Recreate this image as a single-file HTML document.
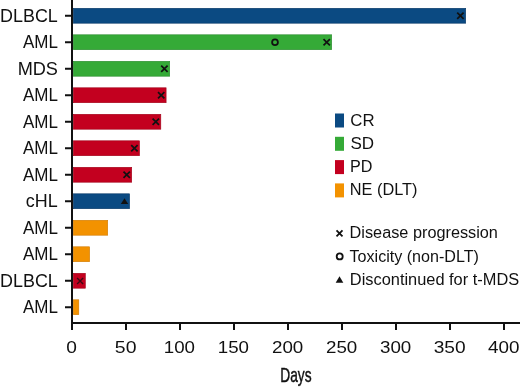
<!DOCTYPE html>
<html><head><meta charset="utf-8"><style>
html,body{margin:0;padding:0;background:#fff;width:520px;height:388px;overflow:hidden}
svg{display:block;will-change:transform}
text{font-family:"Liberation Sans",sans-serif;fill:#111}
</style></head><body>
<svg width="520" height="388" viewBox="0 0 520 388">
<rect x="73.3" y="8.3" width="392.4" height="14.9" fill="#0b4a82" stroke="#083866" stroke-width="0.6"/>
<rect x="65" y="14.75" width="6" height="2" fill="#111"/>
<text x="0.07" y="21.55" font-size="17.6" textLength="57.70" lengthAdjust="spacingAndGlyphs">DLBCL</text>
<rect x="73.3" y="34.8" width="258.4" height="14.9" fill="#35aa37" stroke="#2a8a2e" stroke-width="0.6"/>
<rect x="65" y="41.25" width="6" height="2" fill="#111"/>
<text x="23.00" y="48.05" font-size="17.6" textLength="34.96" lengthAdjust="spacingAndGlyphs">AML</text>
<rect x="73.3" y="61.3" width="96.4" height="14.9" fill="#35aa37" stroke="#2a8a2e" stroke-width="0.6"/>
<rect x="65" y="67.75" width="6" height="2" fill="#111"/>
<text x="17.65" y="74.55" font-size="17.6" textLength="40.33" lengthAdjust="spacingAndGlyphs">MDS</text>
<rect x="73.3" y="87.8" width="92.8" height="14.9" fill="#c3001f" stroke="#a00018" stroke-width="0.6"/>
<rect x="65" y="94.25" width="6" height="2" fill="#111"/>
<text x="23.00" y="101.05" font-size="17.6" textLength="34.96" lengthAdjust="spacingAndGlyphs">AML</text>
<rect x="73.3" y="114.3" width="87.5" height="14.9" fill="#c3001f" stroke="#a00018" stroke-width="0.6"/>
<rect x="65" y="120.75" width="6" height="2" fill="#111"/>
<text x="23.00" y="127.55" font-size="17.6" textLength="34.96" lengthAdjust="spacingAndGlyphs">AML</text>
<rect x="73.3" y="140.8" width="66.2" height="14.9" fill="#c3001f" stroke="#a00018" stroke-width="0.6"/>
<rect x="65" y="147.25" width="6" height="2" fill="#111"/>
<text x="23.00" y="154.05" font-size="17.6" textLength="34.96" lengthAdjust="spacingAndGlyphs">AML</text>
<rect x="73.3" y="167.3" width="58.4" height="14.9" fill="#c3001f" stroke="#a00018" stroke-width="0.6"/>
<rect x="65" y="173.75" width="6" height="2" fill="#111"/>
<text x="23.00" y="180.55" font-size="17.6" textLength="34.96" lengthAdjust="spacingAndGlyphs">AML</text>
<rect x="73.3" y="193.8" width="56.3" height="14.9" fill="#0b4a82" stroke="#083866" stroke-width="0.6"/>
<rect x="65" y="200.25" width="6" height="2" fill="#111"/>
<text x="25.73" y="207.05" font-size="17.6" textLength="31.92" lengthAdjust="spacingAndGlyphs">cHL</text>
<rect x="73.3" y="220.3" width="34.4" height="14.9" fill="#f39200" stroke="#d07a00" stroke-width="0.6"/>
<rect x="65" y="226.75" width="6" height="2" fill="#111"/>
<text x="23.00" y="233.55" font-size="17.6" textLength="34.96" lengthAdjust="spacingAndGlyphs">AML</text>
<rect x="73.3" y="246.8" width="16.3" height="14.9" fill="#f39200" stroke="#d07a00" stroke-width="0.6"/>
<rect x="65" y="253.25" width="6" height="2" fill="#111"/>
<text x="23.00" y="260.05" font-size="17.6" textLength="34.96" lengthAdjust="spacingAndGlyphs">AML</text>
<rect x="73.3" y="273.3" width="12.0" height="14.9" fill="#c3001f" stroke="#a00018" stroke-width="0.6"/>
<rect x="65" y="279.75" width="6" height="2" fill="#111"/>
<text x="0.07" y="286.55" font-size="17.6" textLength="57.70" lengthAdjust="spacingAndGlyphs">DLBCL</text>
<rect x="73.3" y="299.8" width="5.5" height="14.9" fill="#f39200" stroke="#d07a00" stroke-width="0.6"/>
<rect x="65" y="306.25" width="6" height="2" fill="#111"/>
<text x="23.00" y="313.05" font-size="17.6" textLength="34.96" lengthAdjust="spacingAndGlyphs">AML</text>
<path d="M457.20 12.55L463.60 18.95M463.60 12.55L457.20 18.95" stroke="#111" stroke-width="1.7" fill="none"/>
<path d="M323.50 39.05L329.90 45.45M329.90 39.05L323.50 45.45" stroke="#111" stroke-width="1.7" fill="none"/>
<path d="M161.20 65.55L167.60 71.95M167.60 65.55L161.20 71.95" stroke="#111" stroke-width="1.7" fill="none"/>
<path d="M158.00 92.05L164.40 98.45M164.40 92.05L158.00 98.45" stroke="#111" stroke-width="1.7" fill="none"/>
<path d="M152.60 118.55L159.00 124.95M159.00 118.55L152.60 124.95" stroke="#111" stroke-width="1.7" fill="none"/>
<path d="M131.20 145.05L137.60 151.45M137.60 145.05L131.20 151.45" stroke="#111" stroke-width="1.7" fill="none"/>
<path d="M123.50 171.55L129.90 177.95M129.90 171.55L123.50 177.95" stroke="#111" stroke-width="1.7" fill="none"/>
<path d="M77.10 278.05L83.10 284.05M83.10 278.05L77.10 284.05" stroke="#3a0a14" stroke-width="1.4" fill="none"/>
<circle cx="275" cy="42.25" r="2.9" stroke="#111" stroke-width="1.8" fill="none"/>
<path d="M120.8 204.05L128.2 204.05L124.5 198.25Z" fill="#111"/>
<rect x="71" y="0" width="2" height="330" fill="#111"/>
<rect x="71" y="322" width="449" height="2" fill="#111"/>
<rect x="71" y="324" width="2" height="6" fill="#111"/>
<text x="66.36" y="352.60" font-size="17" textLength="10.65" lengthAdjust="spacingAndGlyphs">0</text>
<rect x="125" y="324" width="2" height="6" fill="#111"/>
<text x="114.84" y="352.60" font-size="17" textLength="21.62" lengthAdjust="spacingAndGlyphs">50</text>
<rect x="179" y="324" width="2" height="6" fill="#111"/>
<text x="163.72" y="352.60" font-size="17" textLength="31.27" lengthAdjust="spacingAndGlyphs">100</text>
<rect x="233" y="324" width="2" height="6" fill="#111"/>
<text x="217.72" y="352.60" font-size="17" textLength="31.27" lengthAdjust="spacingAndGlyphs">150</text>
<rect x="287" y="324" width="2" height="6" fill="#111"/>
<text x="271.97" y="352.60" font-size="17" textLength="31.32" lengthAdjust="spacingAndGlyphs">200</text>
<rect x="341" y="324" width="2" height="6" fill="#111"/>
<text x="325.97" y="352.60" font-size="17" textLength="31.32" lengthAdjust="spacingAndGlyphs">250</text>
<rect x="395" y="324" width="2" height="6" fill="#111"/>
<text x="379.97" y="352.60" font-size="17" textLength="31.32" lengthAdjust="spacingAndGlyphs">300</text>
<rect x="449" y="324" width="2" height="6" fill="#111"/>
<text x="433.66" y="352.60" font-size="17" textLength="31.95" lengthAdjust="spacingAndGlyphs">350</text>
<rect x="503" y="324" width="2" height="6" fill="#111"/>
<text x="488.05" y="352.60" font-size="17" textLength="31.45" lengthAdjust="spacingAndGlyphs">400</text>
<text stroke="#111" stroke-width="0.45" x="280.26" y="381.60" font-size="21" textLength="31.31" lengthAdjust="spacingAndGlyphs">Days</text>
<rect x="335" y="113.50" width="9" height="14" fill="#0b4a82"/>
<text x="350.36" y="126.10" font-size="17" textLength="24.24" lengthAdjust="spacingAndGlyphs">CR</text>
<rect x="335" y="136.80" width="9" height="14" fill="#35aa37"/>
<text x="350.45" y="148.60" font-size="17" textLength="23.62" lengthAdjust="spacingAndGlyphs">SD</text>
<rect x="335" y="160.10" width="9" height="14" fill="#c3001f"/>
<text x="350.07" y="171.70" font-size="17" textLength="22.46" lengthAdjust="spacingAndGlyphs">PD</text>
<rect x="335" y="183.40" width="9" height="14" fill="#f39200"/>
<text x="349.76" y="195.20" font-size="17" textLength="67.72" lengthAdjust="spacingAndGlyphs">NE (DLT)</text>
<path d="M336.50 230.40L342.50 236.40M342.50 230.40L336.50 236.40" stroke="#111" stroke-width="1.8" fill="none"/>
<text x="349.63" y="238.00" font-size="16" textLength="148.30" lengthAdjust="spacingAndGlyphs">Disease progression</text>
<circle cx="339.7" cy="256.4" r="3.0" stroke="#111" stroke-width="1.8" fill="none"/>
<text x="349.55" y="261.50" font-size="16" textLength="129.33" lengthAdjust="spacingAndGlyphs">Toxicity (non-DLT)</text>
<path d="M335.7 282.70000000000005L343.3 282.70000000000005L339.5 276.3Z" fill="#111"/>
<text x="349.82" y="284.60" font-size="16" textLength="169.34" lengthAdjust="spacingAndGlyphs">Discontinued for t-MDS</text>
</svg>
</body></html>
